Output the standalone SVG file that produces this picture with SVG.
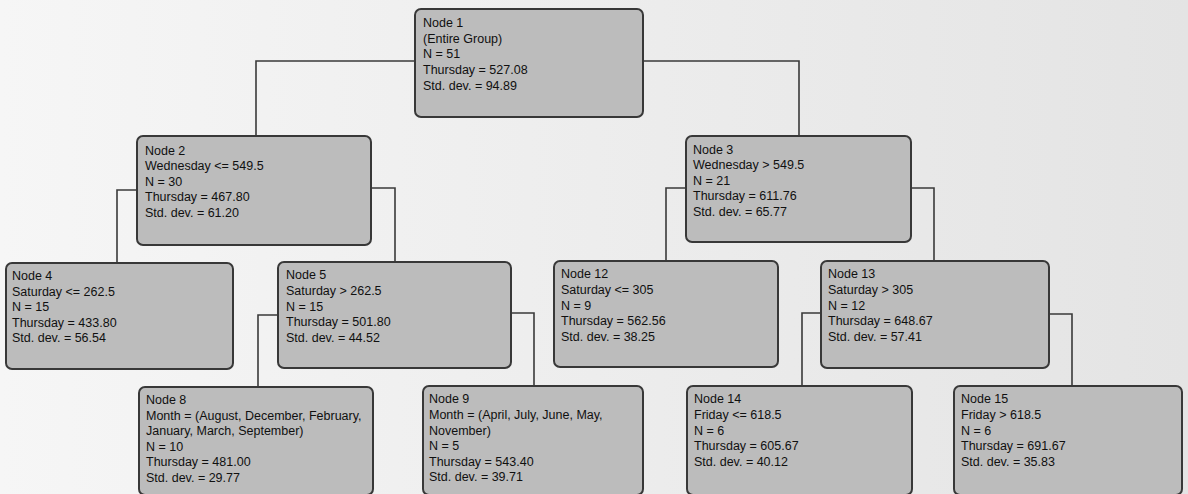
<svg xmlns="http://www.w3.org/2000/svg" width="1188" height="494" viewBox="0 0 1188 494">
<defs>
<linearGradient id="bg" x1="0" y1="0" x2="1" y2="0">
<stop offset="0" stop-color="#f6f6f6"/>
<stop offset="1" stop-color="#e4e4e4"/>
</linearGradient>
<style>
.box{fill:#bcbcbc;stroke:#383838;stroke-width:2}
.t{font-family:"Liberation Sans",Arial,sans-serif;font-size:12.5px;fill:#101010}
.c{fill:none;stroke:#3a3a3a;stroke-width:1.6}
</style>
</defs>
<rect width="1188" height="494" fill="url(#bg)"/>
<g id="connectors">
<path class="c" d="M415,61 H256 V136"/>
<path class="c" d="M643,61 H799 V136"/>
<path class="c" d="M137,190 H117 V263"/>
<path class="c" d="M371,188 H395 V262"/>
<path class="c" d="M686,188 H666 V261"/>
<path class="c" d="M911,188 H934 V261"/>
<path class="c" d="M278,315 H258 V387"/>
<path class="c" d="M511,313 H534 V386"/>
<path class="c" d="M821,313 H802 V386"/>
<path class="c" d="M1049,314 H1072 V386"/>
</g>
<g id="node1">
<rect class="box" x="415" y="9" width="228" height="108" rx="6"/>
<text class="t" x="423" y="27">Node 1</text>
<text class="t" x="423" y="43">(Entire Group)</text>
<text class="t" x="423" y="58">N = 51</text>
<text class="t" x="423" y="74">Thursday = 527.08</text>
<text class="t" x="423" y="90">Std. dev. = 94.89</text>
</g>
<g id="node2">
<rect class="box" x="137" y="136" width="234" height="109" rx="6"/>
<text class="t" x="145" y="155">Node 2</text>
<text class="t" x="145" y="170">Wednesday &lt;= 549.5</text>
<text class="t" x="145" y="186">N = 30</text>
<text class="t" x="145" y="201">Thursday = 467.80</text>
<text class="t" x="145" y="217">Std. dev. = 61.20</text>
</g>
<g id="node3">
<rect class="box" x="686" y="136" width="225" height="106" rx="6"/>
<text class="t" x="693" y="154">Node 3</text>
<text class="t" x="693" y="169">Wednesday &gt; 549.5</text>
<text class="t" x="693" y="185">N = 21</text>
<text class="t" x="693" y="200">Thursday = 611.76</text>
<text class="t" x="693" y="216">Std. dev. = 65.77</text>
</g>
<g id="node4">
<rect class="box" x="6" y="263" width="227" height="106" rx="6"/>
<text class="t" x="12" y="280">Node 4</text>
<text class="t" x="12" y="296">Saturday &lt;= 262.5</text>
<text class="t" x="12" y="311">N = 15</text>
<text class="t" x="12" y="327">Thursday = 433.80</text>
<text class="t" x="12" y="342">Std. dev. = 56.54</text>
</g>
<g id="node5">
<rect class="box" x="278" y="262" width="233" height="106" rx="6"/>
<text class="t" x="286" y="279">Node 5</text>
<text class="t" x="286" y="295">Saturday &gt; 262.5</text>
<text class="t" x="286" y="311">N = 15</text>
<text class="t" x="286" y="326">Thursday = 501.80</text>
<text class="t" x="286" y="342">Std. dev. = 44.52</text>
</g>
<g id="node12">
<rect class="box" x="554" y="261" width="224" height="106" rx="6"/>
<text class="t" x="561" y="278">Node 12</text>
<text class="t" x="561" y="294">Saturday &lt;= 305</text>
<text class="t" x="561" y="310">N = 9</text>
<text class="t" x="561" y="325">Thursday = 562.56</text>
<text class="t" x="561" y="341">Std. dev. = 38.25</text>
</g>
<g id="node13">
<rect class="box" x="821" y="261" width="228" height="107" rx="6"/>
<text class="t" x="828" y="278">Node 13</text>
<text class="t" x="828" y="294">Saturday &gt; 305</text>
<text class="t" x="828" y="310">N = 12</text>
<text class="t" x="828" y="325">Thursday = 648.67</text>
<text class="t" x="828" y="341">Std. dev. = 57.41</text>
</g>
<g id="node8">
<rect class="box" x="139" y="387" width="234" height="108" rx="6"/>
<text class="t" x="146" y="404">Node 8</text>
<text class="t" x="146" y="420">Month = (August, December, February,</text>
<text class="t" x="146" y="435">January, March, September)</text>
<text class="t" x="146" y="451">N = 10</text>
<text class="t" x="146" y="466">Thursday = 481.00</text>
<text class="t" x="146" y="482">Std. dev. = 29.77</text>
</g>
<g id="node9">
<rect class="box" x="423" y="386" width="220" height="109" rx="6"/>
<text class="t" x="429" y="403">Node 9</text>
<text class="t" x="429" y="419">Month = (April, July, June, May,</text>
<text class="t" x="429" y="435">November)</text>
<text class="t" x="429" y="450">N = 5</text>
<text class="t" x="429" y="466">Thursday = 543.40</text>
<text class="t" x="429" y="481">Std. dev. = 39.71</text>
</g>
<g id="node14">
<rect class="box" x="687" y="386" width="225" height="109" rx="6"/>
<text class="t" x="694" y="403">Node 14</text>
<text class="t" x="694" y="419">Friday &lt;= 618.5</text>
<text class="t" x="694" y="435">N = 6</text>
<text class="t" x="694" y="450">Thursday = 605.67</text>
<text class="t" x="694" y="466">Std. dev. = 40.12</text>
</g>
<g id="node15">
<rect class="box" x="954" y="386" width="228" height="109" rx="6"/>
<text class="t" x="961" y="403">Node 15</text>
<text class="t" x="961" y="419">Friday &gt; 618.5</text>
<text class="t" x="961" y="435">N = 6</text>
<text class="t" x="961" y="450">Thursday = 691.67</text>
<text class="t" x="961" y="466">Std. dev. = 35.83</text>
</g>
</svg>
